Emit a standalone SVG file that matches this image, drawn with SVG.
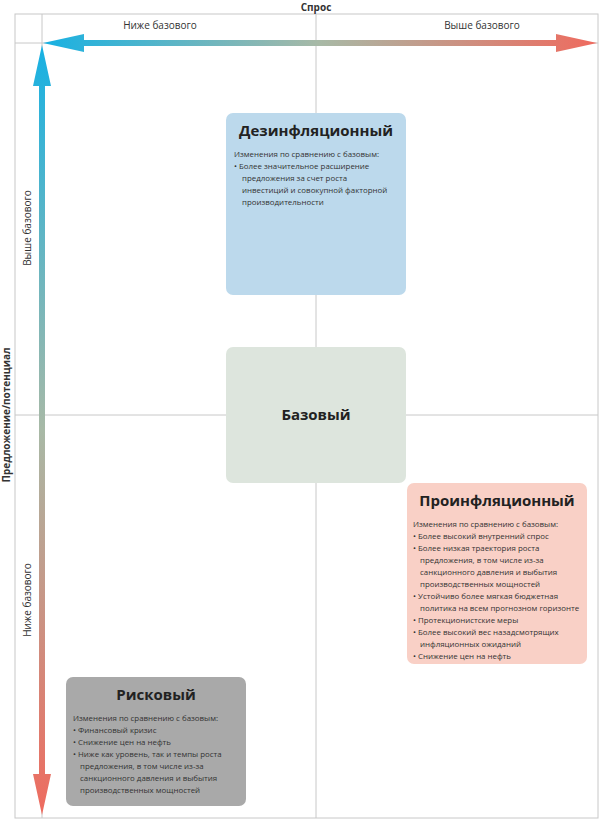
<svg xmlns="http://www.w3.org/2000/svg" width="600" height="819" viewBox="0 0 600 819">
<style>
text{font-family:"Open Sans","DejaVu Sans",sans-serif;fill:#222}
.t{font-size:15px;font-weight:bold;text-anchor:middle}
.b{font-size:7.9px;fill:#333}
.ax{font-size:10px;fill:#333}
.g{stroke:#c8c8c8;stroke-width:1;fill:none}
</style>
<defs>
<linearGradient id="gh" x1="42" y1="0" x2="598" y2="0" gradientUnits="userSpaceOnUse"><stop offset="0" stop-color="#17b1e3"/><stop offset="0.5" stop-color="#a8b9a6"/><stop offset="1" stop-color="#ef6a5e"/></linearGradient>
<linearGradient id="gv" x1="0" y1="45" x2="0" y2="816" gradientUnits="userSpaceOnUse"><stop offset="0" stop-color="#17b1e3"/><stop offset="0.5" stop-color="#a8b9a6"/><stop offset="1" stop-color="#ef6a5e"/></linearGradient>
</defs>
<rect width="600" height="819" fill="#fff"/>
<g id="grid">
<rect x="15" y="14" width="583" height="804" class="g"/>
<line x1="15" y1="43" x2="598" y2="43" class="g"/>
<line x1="42" y1="14" x2="42" y2="818" class="g"/>
<line x1="316" y1="14" x2="316" y2="818" class="g"/>
<line x1="15" y1="415" x2="598" y2="415" class="g"/>
</g>
<g id="connectors">
<polygon fill="url(#gh)" points="43,43 84,34 84,40 556,40 556,34 597,43 556,52 556,46 84,46 84,52"/>
<polygon fill="url(#gv)" points="42,45 33,86 39,86 39,774 33,774 42,815 51,774 45,774 45,86 51,86"/>
</g>
<g id="labels">
<text x="316" y="11" class="ax" text-anchor="middle" font-weight="bold">Спрос</text>
<text x="160" y="29" class="ax" text-anchor="middle">Ниже базового</text>
<text x="482" y="29" class="ax" text-anchor="middle">Выше базового</text>
<text transform="translate(10,415) rotate(-90)" class="ax" text-anchor="middle" font-weight="bold">Предложение/потенциал</text>
<text transform="translate(31,228) rotate(-90)" class="ax" text-anchor="middle">Выше базового</text>
<text transform="translate(31,600) rotate(-90)" class="ax" text-anchor="middle">Ниже базового</text>
</g>
<g id="disinfl">
<rect x="226" y="113" width="180" height="182" rx="7" fill="#bcd9ec"/>
<text x="316" y="136" class="t">Дезинфляционный</text>
<text class="b"><tspan x="234" y="157">Изменения по сравнению с базовым:</tspan><tspan x="234" y="169">•  Более значительное расширение</tspan><tspan x="242" y="181">предложения за счет роста</tspan><tspan x="242" y="193">инвестиций и совокупной факторной</tspan><tspan x="242" y="205">производительности</tspan></text>
</g>
<g id="base">
<rect x="226" y="347" width="180" height="136" rx="7" fill="#dde5dd"/>
<text x="316" y="420" class="t">Базовый</text>
</g>
<g id="proinfl">
<rect x="407" y="483" width="180" height="181" rx="7" fill="#f9d0c6"/>
<text x="497" y="506" class="t">Проинфляционный</text>
<text class="b"><tspan x="413" y="527">Изменения по сравнению с базовым:</tspan><tspan x="413" y="539">•  Более высокий внутренний спрос</tspan><tspan x="413" y="551">•  Более низкая траектория роста</tspan><tspan x="420" y="563">предложения, в том числе из-за</tspan><tspan x="420" y="575">санкционного давления и выбытия</tspan><tspan x="420" y="587">производственных мощностей</tspan><tspan x="413" y="599">•  Устойчиво более мягкая бюджетная</tspan><tspan x="420" y="611">политика на всем прогнозном горизонте</tspan><tspan x="413" y="623">•  Протекционистские меры</tspan><tspan x="413" y="635">•  Более высокий вес назадсмотрящих</tspan><tspan x="420" y="647">инфляционных ожиданий</tspan><tspan x="413" y="659">•  Снижение цен на нефть</tspan></text>
</g>
<g id="risk">
<rect x="66" y="677" width="180" height="129" rx="7" fill="#a9a9a9"/>
<text x="156" y="700" class="t">Рисковый</text>
<text class="b"><tspan x="73" y="721">Изменения по сравнению с базовым:</tspan><tspan x="73" y="733">•  Финансовый кризис</tspan><tspan x="73" y="745">•  Снижение цен на нефть</tspan><tspan x="73" y="757">•  Ниже как уровень, так и темпы роста</tspan><tspan x="80" y="769">предложения, в том числе из-за</tspan><tspan x="80" y="781">санкционного давления и выбытия</tspan><tspan x="80" y="793">производственных мощностей</tspan></text>
</g>
</svg>
